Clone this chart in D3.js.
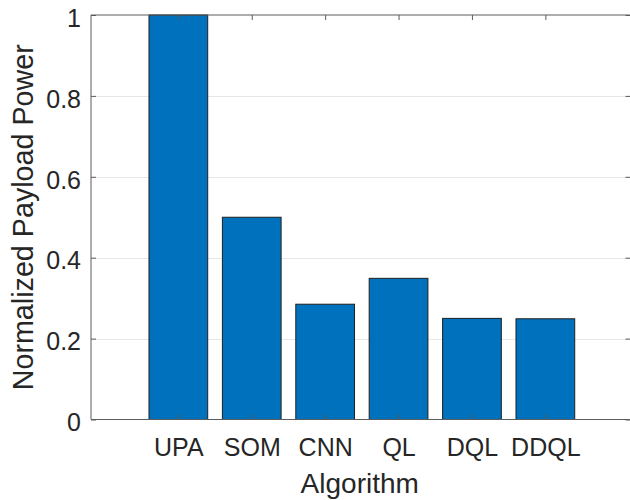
<!DOCTYPE html>
<html>
<head>
<meta charset="utf-8">
<script src="https://cdn.jsdelivr.net/npm/d3@7"></script>
<style>
  html, body { margin: 0; padding: 0; background: #fff; }
  svg { display: block; }
  text { font-family: "Liberation Sans", Arial, sans-serif; fill: #262626; }
</style>
</head>
<body>
<svg id="chart" width="630" height="500"></svg>
<script>
const categories = ["UPA", "SOM", "CNN", "QL", "DQL", "DDQL"];
const values = [1.0, 0.5, 0.285, 0.349, 0.25, 0.249];
const yTicks = [0, 0.2, 0.4, 0.6, 0.8, 1];
const yTickLabels = ["0", "0.2", "0.4", "0.6", "0.8", "1"];
const xLabel = "Algorithm";
const yLabel = "Normalized Payload Power";

const svg = d3.select("#chart");
const L = 91, R = 630.5, T = 15, B = 419.5;

const x = d3.scaleLinear().domain([-0.19, 7.16]).range([L, R]);
const y = d3.scaleLinear().domain([0, 1]).range([B, T]);
const pos = categories.map((c, i) => i + 1);
const barW = 0.8 * (x(2) - x(1));

// grid
svg.append("g").selectAll("line").data(yTicks.filter(v => v > 0 && v < 1)).join("line")
  .attr("x1", L).attr("x2", R)
  .attr("y1", d => Math.round(y(d)) + 0.5).attr("y2", d => Math.round(y(d)) + 0.5)
  .attr("stroke", "#e6e6e6").attr("stroke-width", 1);

// bars
svg.append("g").selectAll("rect").data(values).join("rect")
  .attr("x", (d, i) => x(pos[i]) - barW / 2)
  .attr("width", barW)
  .attr("y", d => y(d))
  .attr("height", d => y(0) - y(d))
  .attr("fill", "#0072BD")
  .attr("stroke", "#1f1f1f").attr("stroke-width", 1);

// box axes
const axisColor = "#5c5c5c";
const box = svg.append("g");
box.append("line").attr("x1", L).attr("x2", R).attr("y1", T).attr("y2", T).attr("stroke", axisColor);
box.append("line").attr("x1", L).attr("x2", R).attr("y1", B).attr("y2", B).attr("stroke", axisColor);
box.append("line").attr("x1", L).attr("x2", L).attr("y1", T).attr("y2", B).attr("stroke", axisColor);
box.append("line").attr("x1", R).attr("x2", R).attr("y1", T).attr("y2", B).attr("stroke", axisColor);

// y axis (left) with inward ticks
const yAxis = d3.axisLeft(y).tickValues(yTicks).tickSize(-5).tickPadding(10)
  .tickFormat((d, i) => yTickLabels[i]);
const gy = svg.append("g").attr("transform", `translate(${L},0)`).call(yAxis);
gy.select(".domain").remove();
gy.selectAll(".tick line").attr("stroke", axisColor);
gy.selectAll(".tick text").attr("font-size", 25).attr("fill", "#262626")
  .attr("font-family", "Liberation Sans, Arial, sans-serif").attr("dy", "0.45em");

// right ticks
const gyr = svg.append("g").attr("transform", `translate(${R},0)`).call(d3.axisRight(y).tickValues(yTicks).tickSize(-5).tickFormat(""));
gyr.select(".domain").remove();
gyr.selectAll(".tick line").attr("stroke", axisColor);

// x axis (bottom) with labels
const xAxis = d3.axisBottom(x).tickValues(pos).tickSize(-5).tickPadding(19)
  .tickFormat((d, i) => categories[i]);
const gx = svg.append("g").attr("transform", `translate(0,${B})`).call(xAxis);
gx.select(".domain").remove();
gx.selectAll(".tick line").attr("stroke", axisColor);
gx.selectAll(".tick text").attr("font-size", 25).attr("fill", "#262626")
  .attr("font-family", "Liberation Sans, Arial, sans-serif").attr("dy", "0.71em");

// top ticks
const gxt = svg.append("g").attr("transform", `translate(0,${T})`).call(d3.axisTop(x).tickValues(pos).tickSize(-5).tickFormat(""));
gxt.select(".domain").remove();
gxt.selectAll(".tick line").attr("stroke", axisColor);

// axis labels
svg.append("text").attr("x", (L + R) / 2 - 1).attr("y", 493)
  .attr("text-anchor", "middle").attr("font-size", 28).text(xLabel);
svg.append("text").attr("transform", `translate(32.5,${(T + B) / 2}) rotate(-90)`)
  .attr("text-anchor", "middle").attr("font-size", 28.7).text(yLabel);
</script>
</body>
</html>
